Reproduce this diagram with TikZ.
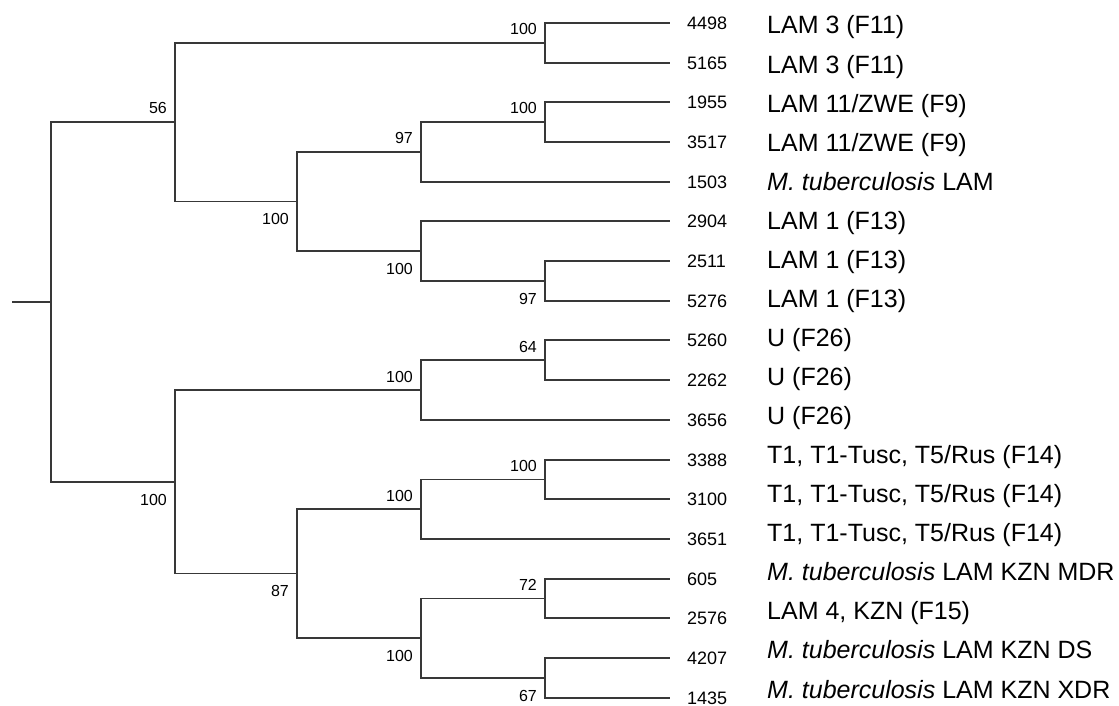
\documentclass[tikz,border=0pt]{standalone}
\usepackage{fontspec}
\setmainfont{Liberation Sans}
\usepackage{tikz}
\usetikzlibrary{positioning,calc}

\tikzset{
  branch/.style={draw=black!78, line width=1.4pt, line cap=rect},
  leafid/.style={anchor=west, inner sep=0pt, xshift=18pt, font=\fontsize{18}{20}\selectfont},
  strain/.style={anchor=base west, inner sep=0pt, font=\fontsize{25}{28}\selectfont},
  bootup/.style={anchor=base east, inner sep=0pt, xshift=-8pt, yshift=8pt, font=\fontsize{16}{18}\selectfont},
  bootdown/.style={anchor=base east, inner sep=0pt, xshift=-8pt, yshift=-23pt, font=\fontsize{16}{18}\selectfont}
}

\begin{document}
\begin{tikzpicture}[x=1pt, y=-1pt]
  \useasboundingbox (0,0) rectangle (1119,706);

  % Leaf tips
  \coordinate (l4498) at (669,23);
  \coordinate (l5165) at (669,63);
  \coordinate (l1955) at (669,102);
  \coordinate (l3517) at (669,142);
  \coordinate (l1503) at (669,182);
  \coordinate (l2904) at (669,221);
  \coordinate (l2511) at (669,261);
  \coordinate (l5276) at (669,301);
  \coordinate (l5260) at (669,340);
  \coordinate (l2262) at (669,380);
  \coordinate (l3656) at (669,420);
  \coordinate (l3388) at (669,460);
  \coordinate (l3100) at (669,499);
  \coordinate (l3651) at (669,539);
  \coordinate (l605)  at (669,579);
  \coordinate (l2576) at (669,618);
  \coordinate (l4207) at (669,658);
  \coordinate (l1435) at (669,698);

  % Internal nodes
  \coordinate (stub)   at (13,302);
  \coordinate (root)   at (51,302);
  \coordinate (top)    at (175,122);
  \coordinate (lam3)   at (545,43);
  \coordinate (lamsub) at (297,201.5);
  \coordinate (zwelam) at (421,152);
  \coordinate (zwe)    at (545,122);
  \coordinate (lam1)   at (421,251);
  \coordinate (lam1b)  at (545,281);
  \coordinate (bottom) at (175,482);
  \coordinate (u)      at (421,390);
  \coordinate (u2)     at (545,360);
  \coordinate (tkzn)   at (297,573.5);
  \coordinate (t)      at (421,509);
  \coordinate (t2)     at (545,479.5);
  \coordinate (kzn)    at (421,638);
  \coordinate (kzn1)   at (545,598.5);
  \coordinate (kzn2)   at (545,678);

  % Branches
  \draw[branch] (stub) -- (root);
  \draw[branch] (root) |- (top);
  \draw[branch] (root) |- (bottom);
  \draw[branch] (top) |- (lam3);
  \draw[branch] (top) |- (lamsub);
  \draw[branch] (lam3) |- (l4498);
  \draw[branch] (lam3) |- (l5165);
  \draw[branch] (lamsub) |- (zwelam);
  \draw[branch] (lamsub) |- (lam1);
  \draw[branch] (zwelam) |- (zwe);
  \draw[branch] (zwelam) |- (l1503);
  \draw[branch] (zwe) |- (l1955);
  \draw[branch] (zwe) |- (l3517);
  \draw[branch] (lam1) |- (l2904);
  \draw[branch] (lam1) |- (lam1b);
  \draw[branch] (lam1b) |- (l2511);
  \draw[branch] (lam1b) |- (l5276);
  \draw[branch] (bottom) |- (u);
  \draw[branch] (bottom) |- (tkzn);
  \draw[branch] (u) |- (u2);
  \draw[branch] (u) |- (l3656);
  \draw[branch] (u2) |- (l5260);
  \draw[branch] (u2) |- (l2262);
  \draw[branch] (tkzn) |- (t);
  \draw[branch] (tkzn) |- (kzn);
  \draw[branch] (t) |- (t2);
  \draw[branch] (t) |- (l3651);
  \draw[branch] (t2) |- (l3388);
  \draw[branch] (t2) |- (l3100);
  \draw[branch] (kzn) |- (kzn1);
  \draw[branch] (kzn) |- (kzn2);
  \draw[branch] (kzn1) |- (l605);
  \draw[branch] (kzn1) |- (l2576);
  \draw[branch] (kzn2) |- (l4207);
  \draw[branch] (kzn2) |- (l1435);

  % Bootstrap values
  \node[bootup]   (btop)    at (top)    {56};
  \node[bootup]   (blam3)   at (lam3)   {100};
  \node[bootdown] (blamsub) at (lamsub) {100};
  \node[bootup]   (bzwelam) at (zwelam) {97};
  \node[bootup]   (bzwe)    at (zwe)    {100};
  \node[bootdown] (blam1)   at (lam1)   {100};
  \node[bootdown] (blam1b)  at (lam1b)  {97};
  \node[bootdown] (bbottom) at (bottom) {100};
  \node[bootup]   (bu)      at (u)      {100};
  \node[bootup]   (bu2)     at (u2)     {64};
  \node[bootdown] (btkzn)   at (tkzn)   {87};
  \node[bootup]   (bt)      at (t)      {100};
  \node[bootup]   (bt2)     at (t2)     {100};
  \node[bootdown] (bkzn)    at (kzn)    {100};
  \node[bootup]   (bkzn1)   at (kzn1)   {72};
  \node[bootdown] (bkzn2)   at (kzn2)   {67};

  % Isolate numbers
  \node[leafid] (id4498) at (l4498) {4498};
  \node[leafid] (id5165) at (l5165) {5165};
  \node[leafid] (id1955) at (l1955) {1955};
  \node[leafid] (id3517) at (l3517) {3517};
  \node[leafid] (id1503) at (l1503) {1503};
  \node[leafid] (id2904) at (l2904) {2904};
  \node[leafid] (id2511) at (l2511) {2511};
  \node[leafid] (id5276) at (l5276) {5276};
  \node[leafid] (id5260) at (l5260) {5260};
  \node[leafid] (id2262) at (l2262) {2262};
  \node[leafid] (id3656) at (l3656) {3656};
  \node[leafid] (id3388) at (l3388) {3388};
  \node[leafid] (id3100) at (l3100) {3100};
  \node[leafid] (id3651) at (l3651) {3651};
  \node[leafid] (id605)  at (l605)  {605};
  \node[leafid] (id2576) at (l2576) {2576};
  \node[leafid] (id4207) at (l4207) {4207};
  \node[leafid] (id1435) at (l1435) {1435};

  % Spoligotype families
  \node[strain] (s4498) at (767,34)    {LAM 3 (F11)};
  \node[strain] (s5165) at (767,73.1)  {LAM 3 (F11)};
  \node[strain] (s1955) at (767,112.1) {LAM 11/ZWE (F9)};
  \node[strain] (s3517) at (767,151.2) {LAM 11/ZWE (F9)};
  \node[strain] (s1503) at (767,190.2) {\textit{M. tuberculosis} LAM};
  \node[strain] (s2904) at (767,229.3) {LAM 1 (F13)};
  \node[strain] (s2511) at (767,268.4) {LAM 1 (F13)};
  \node[strain] (s5276) at (767,307.4) {LAM 1 (F13)};
  \node[strain] (s5260) at (767,346.5) {U (F26)};
  \node[strain] (s2262) at (767,385.5) {U (F26)};
  \node[strain] (s3656) at (767,424.6) {U (F26)};
  \node[strain] (s3388) at (767,463.6) {T1, T1-Tusc, T5/Rus (F14)};
  \node[strain] (s3100) at (767,502.7) {T1, T1-Tusc, T5/Rus (F14)};
  \node[strain] (s3651) at (767,541.8) {T1, T1-Tusc, T5/Rus (F14)};
  \node[strain] (s605)  at (767,580.8) {\textit{M. tuberculosis} LAM KZN MDR};
  \node[strain] (s2576) at (767,619.9) {LAM 4, KZN (F15)};
  \node[strain] (s4207) at (767,658.9) {\textit{M. tuberculosis} LAM KZN DS};
  \node[strain] (s1435) at (767,698)   {\textit{M. tuberculosis} LAM KZN XDR};
\end{tikzpicture}
\end{document}
